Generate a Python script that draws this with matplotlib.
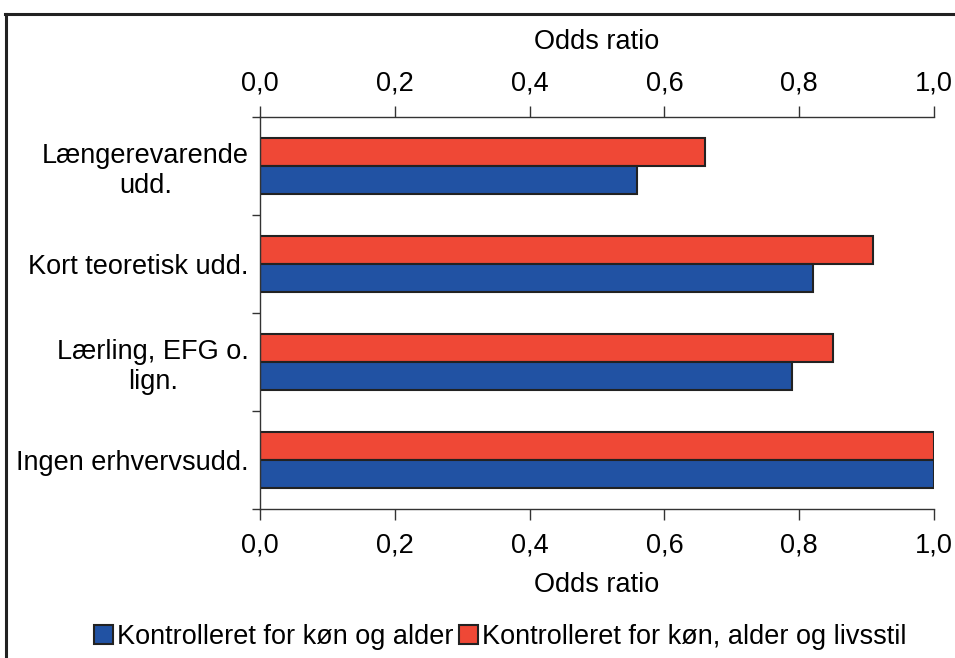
import matplotlib.pyplot as plt
from matplotlib.ticker import FuncFormatter, FixedLocator
from matplotlib.lines import Line2D
import numpy as np

plt.rcParams['font.family'] = ['Liberation Sans', 'DejaVu Sans']

categories = ['Længerevarende\nudd.', 'Kort teoretisk udd.', 'Lærling, EFG o.\nlign.', 'Ingen erhvervsudd.']
serie_alder = [0.56, 0.82, 0.79, 1.00]
serie_livsstil = [0.66, 0.91, 0.85, 1.00]
labels = ['Kontrolleret for køn og alder', 'Kontrolleret for køn, alder og livsstil']
x_ticks = [0.0, 0.2, 0.4, 0.6, 0.8, 1.0]

blue = '#2152a3'
red = '#ef4836'
line_col = '#333333'
fs = 19.5

fig = plt.figure(figsize=(9.55, 6.58), dpi=100)
ax = fig.add_axes([260 / 955, 1 - 509 / 658, 674 / 955, 392 / 658])

pos = np.arange(len(categories)) + 0.5
h = 0.286
ax.barh(pos - h / 2, serie_livsstil, height=h, color=red, edgecolor='#222222', linewidth=1.5, label=labels[1])
ax.barh(pos + h / 2, serie_alder, height=h, color=blue, edgecolor='#222222', linewidth=1.5, label=labels[0])

ax.set_xlim(0, 1.0)
ax.set_ylim(len(categories), 0)

fmt = FuncFormatter(lambda v, p: f'{v:.1f}'.replace('.', ','))
ax.xaxis.set_major_locator(FixedLocator(x_ticks))
ax.xaxis.set_major_formatter(fmt)
ax.set_xlabel('Odds ratio', fontsize=fs, labelpad=9.5)
ax.tick_params(axis='x', length=8, width=1, color=line_col, direction='out', labelsize=fs, pad=9)

# categories between boundary ticks
ax.yaxis.set_major_locator(FixedLocator(np.arange(len(categories) + 1)))
ax.yaxis.set_major_formatter(FuncFormatter(lambda v, p: ''))
ax.yaxis.set_minor_locator(FixedLocator(pos))
ax.set_yticklabels(categories, minor=True, fontsize=fs, multialignment='center')
ax.tick_params(axis='y', which='minor', length=0, pad=8)
ax.tick_params(axis='y', which='major', length=6, width=1, color=line_col, direction='out')

ax.spines['right'].set_visible(False)
for s in ['left', 'top', 'bottom']:
    ax.spines[s].set_color(line_col)
    ax.spines[s].set_linewidth(1)

# top axis with its own labels
sec = ax.secondary_xaxis('top')
sec.xaxis.set_major_locator(FixedLocator(x_ticks))
sec.xaxis.set_major_formatter(fmt)
sec.tick_params(axis='x', length=8, width=1, color=line_col, direction='out', labelsize=fs, pad=6.5)
sec.spines['top'].set_visible(False)
sec.set_xlabel('Odds ratio', fontsize=fs, labelpad=16)

# outer frame (only top and left visible in the crop)
fig.add_artist(Line2D([5.5 / 955, 5.5 / 955], [0, 1 - 14 / 658], color='#222222', lw=2.2))
fig.add_artist(Line2D([5 / 955, 1], [1 - 14 / 658, 1 - 14 / 658], color='#222222', lw=2.2))

handles, labs = ax.get_legend_handles_labels()
fig.legend(handles[::-1], labs[::-1], loc='center', bbox_to_anchor=(500 / 955, 1 - 637 / 658),
           ncol=2, frameon=False, fontsize=fs, handlelength=0.7, handleheight=0.7,
           handletextpad=0.15, columnspacing=0.2, borderaxespad=0)

fig.savefig('out.png', dpi=100)
